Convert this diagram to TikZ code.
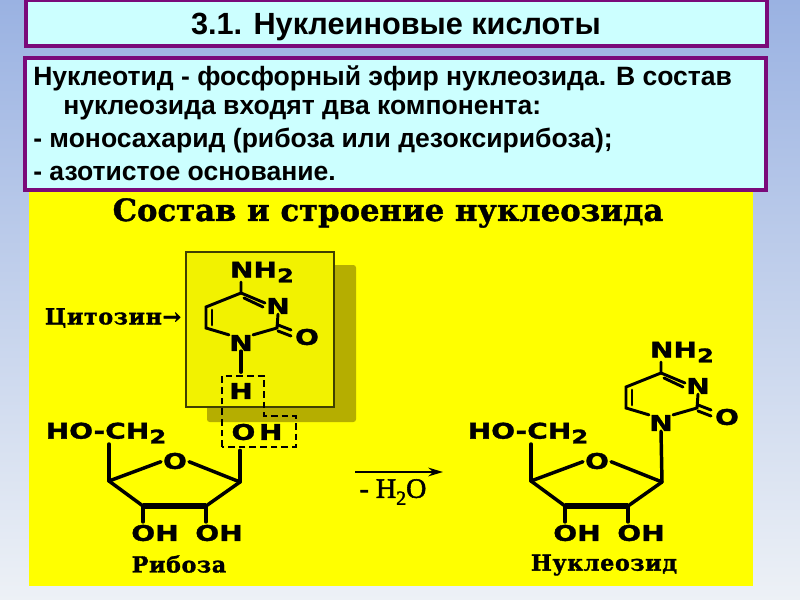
\documentclass[tikz,border=0pt]{standalone}
\usepackage{fontspec}
\setmainfont{Liberation Sans}
\newfontfamily\slab[BoldFeatures={FakeBold=1.2}]{DejaVu Serif}
\newfontfamily\capfont[LetterSpace=3,BoldFeatures={FakeBold=1.5}]{DejaVu Serif}
\newfontfamily\chem[FakeStretch=1.3,BoldFeatures={FakeBold=1.5}]{DejaVu Sans}
\newfontfamily\serifx[FakeBold=2]{Liberation Serif}
\usetikzlibrary{arrows.meta,calc}
\definecolor{boxline}{HTML}{7A0A7A}
\definecolor{boxfill}{HTML}{CCFFFF}
\definecolor{bgtop}{HTML}{9AB2E2}
\definecolor{bgbot}{HTML}{EDF1F6}
\definecolor{panel}{HTML}{FFFF00}
\definecolor{cytobox}{HTML}{F2F200}
\definecolor{shadowc}{HTML}{B5AE00}
\tikzset{
  x=0.75pt,y=-0.75pt,
  frame/.style={draw=boxline,line width=3pt,fill=boxfill},
  bond/.style={line width=2.6pt,black,line cap=round},
  thinbond/.style={line width=2.2pt,black,line cap=round},
  heavy/.style={line width=5pt,black,line cap=round},
  atom/.style={font=\chem\bfseries\fontsize{16.2}{16.2}\selectfont,inner sep=0pt,text=black},
  caption/.style={font=\capfont\bfseries\fontsize{16.6}{17}\selectfont,inner sep=0pt,text=black},
  bodytext/.style={anchor=west,font=\bfseries\fontsize{19.9}{22}\selectfont,inner sep=0pt},
  dash box/.style={line width=1.4pt,black,dash pattern=on 5pt off 3pt},
}
\newcommand{\sub}{\raisebox{-0.22em}{\fontsize{14}{14}\selectfont 2}}
% cytosine ring: origin at C4
\newcommand{\cytosine}[3]{%
\begin{scope}[shift={(#2,#3)},name prefix=#1-]
  \coordinate (C4) at (0,0);
  \node[atom] (NH) at (21,-21) {NH\sub};
  \coordinate (NHb) at (0,-11);
  \node[atom] (N3) at (37,13) {N};
  \coordinate (C2) at (36,35);
  \node[atom] (O) at (66,44) {O};
  \node[atom] (N1) at (0,50) {N};
  \coordinate (C6) at (-35,35);
  \coordinate (C5) at (-35,14);
  \draw[thinbond] (NHb) -- (C4) -- (C5) -- (C6) -- (N1.north west);
  \draw[thinbond] (N3.south) -- (C2) -- (N1.north east);
  \draw[thinbond] (C4) -- ($(N3.west)+(-1,-3)$);
  \draw[thinbond] ($(C4)+(3,5)$) -- ($(N3.west)+(-3,1)$);
  \draw[thinbond] ($(C5)+(6,3)$) -- ($(C6)+(6,-3)$);
  \draw[thinbond] (C2) ++(1,-3) -- ++(13,5);
  \draw[thinbond] (C2) ++(1,3) -- ++(13,5);
\end{scope}}
% ribose: origin at C1 corner
\newcommand{\ribose}[3]{%
\begin{scope}[shift={(#2,#3)},name prefix=#1-]
  \coordinate (C1) at (0,0);
  \coordinate (C2) at (-34,24);
  \coordinate (C3) at (-97,24);
  \coordinate (C4) at (-131,-1);
  \node[atom] (O) at (-65,-21) {O};
  \node[atom] (CH) at (-134,-49) {HO-CH\sub};
  \node[atom] (OHa) at (-85,51) {OH};
  \node[atom] (OHb) at (-21,51) {OH};
  \draw[bond] (C1) -- (C2);
  \draw[bond] (C3) -- (C4);
  \draw[heavy,line cap=butt] (C2) -- (C3);
  \draw[bond,shorten >=1.5pt] (C1) -- (O.east);
  \draw[bond,shorten >=1.5pt] (C4) -- (O.west);
  \draw[bond] (C4) -- ($(C4)+(0,-37)$);
  \draw[bond,shorten >=2pt] (C3) -- (OHa.north -| C3);
  \draw[bond,shorten >=2pt] (C2) -- (OHb.north -| C2);
\end{scope}}
\begin{document}
\begin{tikzpicture}
\useasboundingbox (0,0) rectangle (800,600);
\shade[top color=bgtop,bottom color=bgbot] (0,0) rectangle (800,600);
\fill[panel] (29,186) rectangle (753,586);
\draw[frame] (26,0) rectangle (767,46);
\node[font=\bfseries\fontsize{23}{24}\selectfont,inner sep=0pt] (title) at (396,27) {3.1. Нуклеиновые кислоты};
\draw[frame] (25,58) rectangle (766,190);
\node[bodytext] (l1) at (33,78) {Нуклеотид - фосфорный эфир нуклеозида. В состав};
\node[bodytext] (l2) at (63,110) {нуклеозида входят два компонента:};
\node[bodytext] (l3) at (33,141) {- моносахарид (рибоза или дезоксирибоза);};
\node[bodytext] (l4) at (33,173) {- азотистое основание.};
% panel heading
\node[font=\slab\bfseries\fontsize{23}{24}\selectfont,inner sep=0pt] (head) at (388,213) {Состав и строение нуклеозида};
% shadow + cytosine box
\fill[shadowc,rounded corners=2pt] (207,265) rectangle (356,422);
\draw[fill=cytobox,draw=black!75!panel,line width=1.2pt] (186,252) rectangle (334,407);
\node[caption] (cyt) at (113,318) {Цитозин\textrightarrow};
\cytosine{a}{241}{293}
\node[atom] (H) at (241,391) {H};
\draw[bond,shorten >=8pt] (a-N1.south) -- (H.north);
\node[atom] (OH) at (257,432) {O\,H};
\draw[dash box] (222,447) -- (222,376) -- (264,376) -- (264,416) -- (296,416) -- (296,447) -- cycle;
\ribose{r}{240}{482}
\draw[bond,shorten >=7.5pt] (r-C1) -- (OH.south -| r-C1);
\node[caption] (rib) at (179,564) {Рибоза};
% reaction arrow
\coordinate (arS) at (355,472);
\coordinate (arE) at (443,472);
\draw[line width=1.8pt,-{Stealth[length=11pt,width=6.5pt]}] (arS) -- (arE);
\node[font=\serifx\fontsize{21}{21}\selectfont,inner sep=0pt] (water) at (393,492) {- H\raisebox{-0.25em}{\fontsize{15}{15}\selectfont 2}O};
% nucleoside
\cytosine{b}{661}{373}
\ribose{s}{662}{482}
\draw[bond] (s-C1) -- (b-N1.south);
\node[caption] (nuc) at (604,565) {Нуклеозид};
\end{tikzpicture}
\end{document}
